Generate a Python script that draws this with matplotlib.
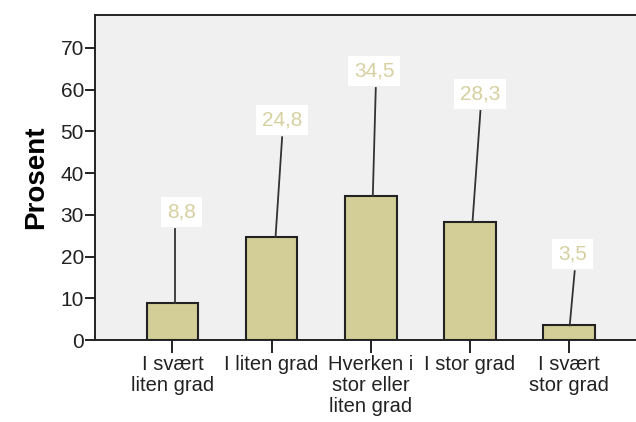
import matplotlib
matplotlib.use("Agg")
import matplotlib.pyplot as plt
import numpy as np

categories = [
    "I svært\nliten grad",
    "I liten grad",
    "Hverken i\nstor eller\nliten grad",
    "I stor grad",
    "I svært\nstor grad",
]
percent = [8.8, 24.8, 34.5, 28.3, 3.5]
value_labels = ["8,8", "24,8", "34,5", "28,3", "3,5"]

# label boxes: x offset of box centre, height of box centre, leader line x offsets
label_dx = [0.092, 0.106, 0.035, 0.10, 0.035]
label_y = [30.7, 52.7, 64.5, 59.0, 20.6]
line_dx_bottom = [0.03, 0.04, 0.02, 0.025, 0.005]
line_dx_top = [0.03, 0.106, 0.05, 0.105, 0.055]
BOX_HALF = 4.1

BAR_COLOR = "#d3ce97"
TEXT_COLOR = "#d6d0a0"
BG = "#f0f0f0"
DARK = "#222222"

plt.rcParams["font.family"] = ["Liberation Sans", "DejaVu Sans"]

fig = plt.figure(figsize=(6.36, 4.22), dpi=100)
ax = fig.add_axes([0.1494, 0.1943, 0.8506, 0.7702])
ax.set_facecolor(BG)

x = np.arange(len(categories))
ax.bar(x, percent, width=0.52, color=BAR_COLOR, edgecolor=DARK, linewidth=1.5, zorder=3)

for i, xi in enumerate(x):
    ax.plot([xi + line_dx_bottom[i], xi + line_dx_top[i]],
            [percent[i], label_y[i] - BOX_HALF],
            color="#333333", linewidth=1.3, zorder=4)
    ax.text(xi + label_dx[i], label_y[i], value_labels[i], ha="center", va="center",
            fontsize=15, color=TEXT_COLOR, zorder=5,
            bbox=dict(facecolor="white", edgecolor="none", pad=4.2))

ax.set_xlim(-0.78, 4.673)
ax.set_ylim(0, 77.9)
ax.set_yticks(np.arange(0, 71, 10))
ax.set_xticks(x)
ax.set_xticklabels(categories, fontsize=14.5, color=DARK, linespacing=1.12)
ax.tick_params(axis="y", labelsize=15, colors=DARK, length=7, width=1.4, pad=1)
ax.tick_params(axis="x", length=9, width=1.4, pad=2, colors=DARK)

ax.spines["right"].set_visible(False)
for side in ["left", "top", "bottom"]:
    ax.spines[side].set_linewidth(1.4)
    ax.spines[side].set_color(DARK)

ax.set_ylabel("Prosent", fontsize=20, fontweight="bold", labelpad=8)

fig.savefig("out.png", dpi=100)
